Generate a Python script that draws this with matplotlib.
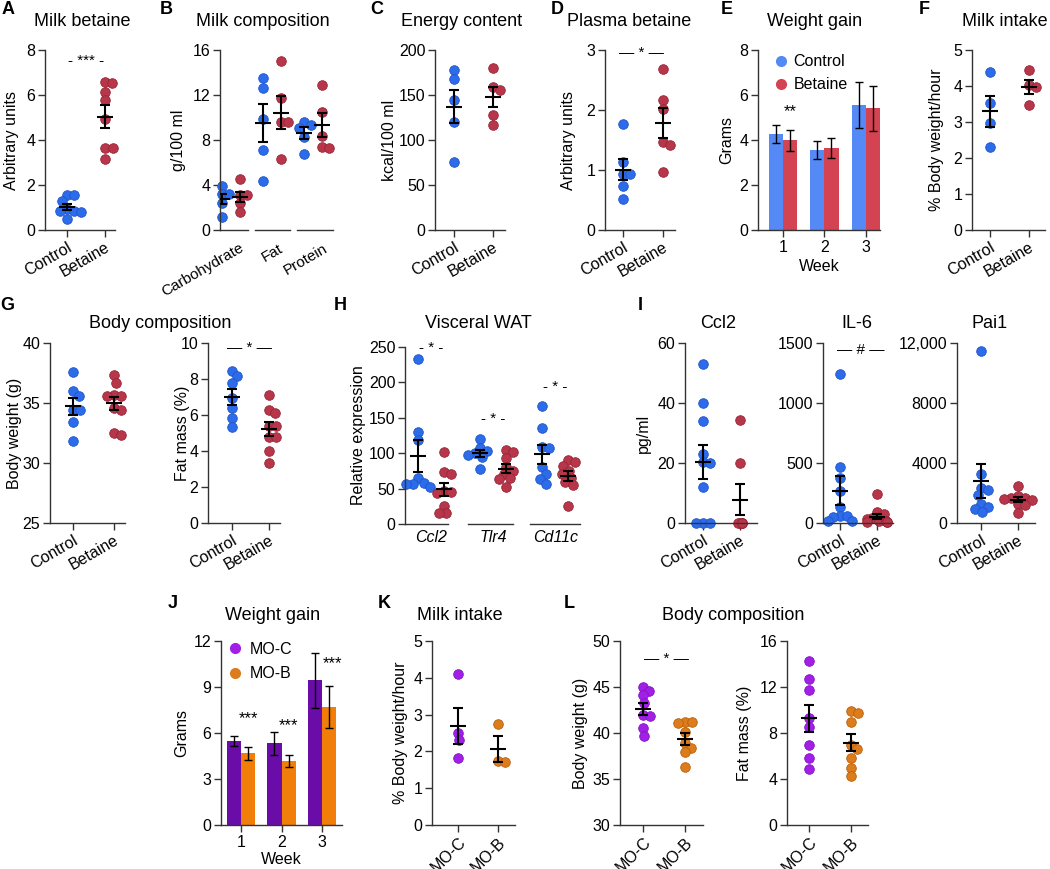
import numpy as np
import matplotlib
matplotlib.use("Agg")
import matplotlib.pyplot as plt
from matplotlib.lines import Line2D

plt.rcParams['font.family'] = ['Liberation Sans', 'DejaVu Sans']
plt.rcParams['font.size'] = 11
plt.rcParams['axes.linewidth'] = 1.0

# ---- data ----
groups = ['Control', 'Betaine']
mo_groups = ['MO-C', 'MO-B']

milk_betaine_ctrl = [1.55, 1.55, 1.3, 0.95, 0.85, 0.85, 0.8, 0.47]
milk_betaine_bet = [6.58, 6.55, 6.13, 5.76, 4.92, 3.63, 3.63, 3.14]

comp_names = ['Carbohydrate', 'Fat', 'Protein']
comp_ctrl = [[3.9, 3.2, 3.2, 2.4, 1.2], [13.5, 12.6, 9.9, 7.1, 4.4], [9.6, 9.3, 9.1, 8.3, 6.8]]
comp_bet = [[4.5, 3.1, 3.1, 2.4, 1.6], [15.0, 11.7, 9.6, 9.6, 6.3], [12.9, 10.5, 8.4, 7.4, 7.3]]

energy_ctrl = [178, 168, 144, 120, 76]
energy_bet = [180, 159, 156, 128, 117]

plasma_ctrl = [1.76, 1.14, 0.94, 0.94, 0.73, 0.52]
plasma_bet = [2.68, 2.17, 2.01, 1.46, 1.41, 0.96]

weeks = [1, 2, 3]
gain_ctrl = [4.28, 3.55, 5.55]
gain_ctrl_err = [0.4, 0.4, 1.02]
gain_bet = [3.98, 3.65, 5.4]
gain_bet_err = [0.45, 0.45, 0.98]

intake_ctrl = [4.38, 3.52, 2.98, 2.31]
intake_bet = [4.44, 4.03, 3.96, 3.47]

bw_ctrl = [37.6, 36.0, 35.6, 34.4, 34.4, 33.4, 31.8]
bw_bet = [37.3, 36.7, 35.7, 35.6, 35.6, 34.6, 34.4, 32.5, 32.3]
fat_ctrl = [8.45, 8.15, 7.8, 6.95, 6.4, 5.85, 5.35]
fat_bet = [7.1, 6.3, 6.1, 5.4, 5.4, 4.8, 4.8, 4.0, 3.33]

genes = ['Ccl2', 'Tlr4', 'Cd11c']
wat_ctrl = [[233, 130, 118, 65, 58, 57, 57, 52], [120, 108, 103, 100, 98, 95, 77],
            [166, 135, 109, 107, 80, 71, 64, 57]]
wat_bet = [[102, 74, 70, 47, 45, 44, 26, 16, 15], [105, 102, 93, 80, 75, 70, 65, 63, 52],
           [90, 87, 82, 75, 70, 65, 60, 55, 25]]

ccl2_ctrl = [53, 40, 34, 23, 20.5, 20, 12, 0, 0, 0]
ccl2_bet = [34.3, 20, 0, 0, 0, 0, 0]
il6_ctrl = [1240, 470, 375, 270, 130, 60, 55, 50, 20, 15]
il6_bet = [240, 90, 75, 45, 35, 20, 15, 10, 5, 5]
pai1_ctrl = [11500, 3250, 2350, 2200, 1900, 1250, 1050, 950, 750]
pai1_bet = [2450, 1800, 1700, 1650, 1600, 1550, 1300, 1200, 700]

mo_gain_c = [5.48, 5.33, 9.43]
mo_gain_c_err = [0.3, 0.75, 1.8]
mo_gain_b = [4.67, 4.17, 7.7]
mo_gain_b_err = [0.43, 0.37, 1.38]

mo_intake_c = [4.1, 2.5, 2.3, 1.83]
mo_intake_b = [2.75, 1.75, 1.7]
mo_bw_c = [45.0, 44.6, 44.1, 43.3, 42.0, 41.8, 40.5, 39.7]
mo_bw_b = [41.2, 41.2, 41.1, 40.1, 38.9, 38.4, 37.9, 36.3]
mo_fat_c = [14.3, 12.7, 11.7, 9.3, 8.5, 7.0, 5.8, 4.9]
mo_fat_b = [9.95, 9.7, 8.95, 7.0, 6.6, 5.8, 5.0, 4.25]

# colours
BLUE, BLUE_E = '#2C6BEA', '#1F55C8'
RED, RED_E = '#B8364A', '#962536'
PURPLE, PURPLE_E = '#A21FE8', '#8312C2'
ORANGE, ORANGE_E = '#DC7C1C', '#B9600C'
BLUE_BAR, RED_BAR = '#5589F5', '#D44352'
PURPLE_BAR, ORANGE_BAR = '#6A0DA8', '#F07E08'
AXC = '#333333'

W, H = 1050, 869
fig = plt.figure(figsize=(W / 100, H / 100), dpi=100)


def px_axes(x0, x1, ytop, ybot, xlim, ylim, yticks, yticklabels=None):
    ax = fig.add_axes([x0 / W, 1 - ybot / H, (x1 - x0) / W, (ybot - ytop) / H])
    ax.set_xlim(xlim)
    ax.set_ylim(ylim)
    ax.set_yticks(yticks)
    if yticklabels is not None:
        ax.set_yticklabels(yticklabels)
    for s in ['top', 'right']:
        ax.spines[s].set_visible(False)
    for s in ['left', 'bottom']:
        ax.spines[s].set_color(AXC)
    ax.tick_params(length=5, width=1, color=AXC, labelsize=11.5, pad=2)
    ax.patch.set_alpha(0)
    return ax


def ftext(x, y, s, **kw):
    fig.text(x / W, 1 - y / H, s, ha='center', va='center', **kw)


def ylab(x, y, s):
    ftext(x, y, s, rotation=90, fontsize=11.5)


def swarm(ax, xc, vals, color, ecolor, d=7.4, maxw=60, size=9.6):
    # simple beeswarm in pixel space, dots may overlap a little
    vals = np.asarray(vals, float)
    pts = ax.transData.transform(np.column_stack([np.full(len(vals), xc), vals]))
    ys = pts[:, 1]
    placed, offs = [], np.zeros(len(vals))
    for i in np.argsort(-ys):
        y = ys[i]
        cands = [0.0]
        for px, py in placed:
            dy = abs(y - py)
            if dy < d:
                dx = np.sqrt(d * d - dy * dy)
                cands += [px + dx, px - dx]
        cands.sort(key=abs)
        c = cands[-1]
        for cand in cands:
            if all((cand - px) ** 2 + (y - py) ** 2 >= d * d - 1e-6 for px, py in placed):
                c = cand
                break
        c = float(np.clip(c, -maxw, maxw))
        placed.append((c, y))
        offs[i] = c
    unit = ax.transData.transform((1, 0))[0] - ax.transData.transform((0, 0))[0]
    ax.scatter(xc + offs / unit, vals, s=(size * 0.72) ** 2, color=color, edgecolor=ecolor,
               linewidth=0.6, zorder=2, clip_on=False)


def mean_sem(ax, xc, vals):
    vals = np.asarray(vals, float)
    m = vals.mean()
    s = vals.std(ddof=1) / np.sqrt(len(vals))
    ax.errorbar(xc, m, yerr=s, fmt='none', ecolor='black', elinewidth=1.5,
                capsize=3.6, capthick=1.5, zorder=3)
    ax.plot([xc], [m], marker='_', ms=12, mew=1.5, color='black', zorder=3)


def two_groups(ax, a, b, ca, cb, maxw=(60, 60)):
    swarm(ax, 0, a, *ca, maxw=maxw[0])
    swarm(ax, 1, b, *cb, maxw=maxw[1])
    mean_sem(ax, 0, a)
    mean_sem(ax, 1, b)


def cat_labels(ax, labels, rot=30):
    ax.set_xticks([0, 1])
    ax.set_xticklabels(labels, rotation=rot, ha='right', va='top', rotation_mode='anchor',
                       fontsize=11.5)


CB = (BLUE, BLUE_E)
CR = (RED, RED_E)
CP = (PURPLE, PURPLE_E)
CO = (ORANGE, ORANGE_E)

# ---- A ----
ax = px_axes(45, 115, 50, 230, (-0.58, 1.26), (0, 8), [0, 2, 4, 6, 8])
two_groups(ax, milk_betaine_ctrl, milk_betaine_bet, CB, CR)
cat_labels(ax, groups)
ax.text(0.5, 7.5, '- *** -', ha='center', va='center', fontsize=11)

# ---- B ----
ax = px_axes(220, 333, 50, 230, (-0.27, 2.49), (0, 16), [0, 4, 8, 12, 16])
for i in range(3):
    swarm(ax, i - 0.22, comp_ctrl[i], *CB)
    swarm(ax, i + 0.22, comp_bet[i], *CR)
    mean_sem(ax, i - 0.22, comp_ctrl[i])
    mean_sem(ax, i + 0.22, comp_bet[i])
ax.spines['bottom'].set_visible(False)
for a0, a1 in [(-0.27, 0.42), (0.58, 1.44), (1.6, 2.49)]:
    ax.plot([a0, a1], [0, 0], color=AXC, lw=1, clip_on=False, zorder=1,
            transform=ax.get_xaxis_transform())
ax.set_xticks([0.2, 1.15, 2.25])
ax.set_xticklabels(comp_names, rotation=30, ha='right', va='top', rotation_mode='anchor',
                   fontsize=11)
ax.tick_params(axis='x', length=0, pad=8)

# ---- C ----
ax = px_axes(435, 505, 50, 230, (-0.49, 1.31), (0, 200), [0, 50, 100, 150, 200])
two_groups(ax, energy_ctrl, energy_bet, CB, CR)
cat_labels(ax, groups)

# ---- D ----
ax = px_axes(605, 675, 50, 230, (-0.45, 1.3), (0, 3), [0, 1, 2, 3])
two_groups(ax, plasma_ctrl, plasma_bet, CB, CR)
cat_labels(ax, groups)
ax.text(0.45, 2.95, '— * —', ha='center', va='center', fontsize=11)

# ---- E ----
ax = px_axes(758, 880, 50, 230, (0.4, 3.34), (0, 8), [0, 2, 4, 6, 8])
wk = np.array(weeks, float)
bw = 0.34
ax.bar(wk - bw / 2, gain_ctrl, width=bw, color=BLUE_BAR, yerr=gain_ctrl_err,
       error_kw=dict(elinewidth=1, capsize=3, capthick=1, ecolor='black'))
ax.bar(wk + bw / 2, gain_bet, width=bw, color=RED_BAR, yerr=gain_bet_err,
       error_kw=dict(elinewidth=1, capsize=3, capthick=1, ecolor='black'))
ax.set_xticks(weeks)
ax.set_xticklabels([str(w) for w in weeks], fontsize=11.5)
ax.text(1 + bw / 2, 5.25, '**', ha='center', va='center', fontsize=12)
ax.set_xlabel('Week', fontsize=11.5, labelpad=3)
ax.legend(handles=[Line2D([], [], marker='o', ls='', color=BLUE_BAR, ms=7, label='Control'),
                   Line2D([], [], marker='o', ls='', color=RED_BAR, ms=7, label='Betaine')],
          loc='upper left', bbox_to_anchor=(0.08, 1.012), frameon=False, fontsize=11.5,
          handlelength=0.8, handletextpad=0.4, labelspacing=0.5, borderaxespad=0)

# ---- F ----
ax = px_axes(972, 1045, 50, 230, (-0.46, 1.41), (0, 5), [0, 1, 2, 3, 4, 5])
two_groups(ax, intake_ctrl, intake_bet, CB, CR)
cat_labels(ax, groups)

# ---- G ----
ax = px_axes(50, 125, 343, 523, (-0.56, 1.27), (25, 40), [25, 30, 35, 40])
two_groups(ax, bw_ctrl, bw_bet, CB, CR)
cat_labels(ax, groups)

ax = px_axes(208, 280, 343, 523, (-0.65, 1.3), (0, 10), [0, 2, 4, 6, 8, 10])
two_groups(ax, fat_ctrl, fat_bet, CB, CR)
cat_labels(ax, groups)
ax.text(0.46, 9.72, '— * —', ha='center', va='center', fontsize=11)

# ---- H ----
ax = px_axes(405, 580, 347, 524, (-0.42, 2.4), (0, 250), [0, 50, 100, 150, 200, 250])
for i in range(3):
    swarm(ax, i - 0.21, wat_ctrl[i], *CB)
    swarm(ax, i + 0.21, wat_bet[i], *CR)
    mean_sem(ax, i - 0.21, wat_ctrl[i])
    mean_sem(ax, i + 0.21, wat_bet[i])
ax.spines['bottom'].set_visible(False)
for a0, a1 in [(-0.42, 0.27), (0.6, 1.32), (1.6, 2.4)]:
    ax.plot([a0, a1], [0, 0], color=AXC, lw=1, clip_on=False, zorder=1,
            transform=ax.get_xaxis_transform())
ax.set_xticks([0, 1, 2])
ax.set_xticklabels(genes, fontstyle='italic', fontsize=11.5)
ax.tick_params(axis='x', length=0, pad=4)
for xs, ys in [(0, 248), (1, 148), (2, 194)]:
    ax.text(xs, ys, '- * -', ha='center', va='center', fontsize=11)

# ---- I ----
ax = px_axes(685, 757, 343, 523, (-0.49, 1.46), (0, 60), [0, 20, 40, 60])
two_groups(ax, ccl2_ctrl, ccl2_bet, CB, CR, maxw=(9, 2))
cat_labels(ax, groups)

ax = px_axes(823, 893, 343, 523, (-0.46, 1.43), (0, 1500), [0, 500, 1000, 1500])
two_groups(ax, il6_ctrl, il6_bet, CB, CR, maxw=(12, 10))
cat_labels(ax, groups)
ax.text(0.55, 1444, '— # —', ha='center', va='center', fontsize=11)

ax = px_axes(957, 1035, 343, 523, (-0.65, 1.46), (0, 12000), [0, 4000, 8000, 12000],
             ['0', '4000', '8000', '12,000'])
two_groups(ax, pai1_ctrl, pai1_bet, CB, CR, maxw=(14, 16))
cat_labels(ax, groups)

# ---- J ----
ax = px_axes(221, 342, 641, 825, (0.51, 3.49), (0, 12), [0, 3, 6, 9, 12])
bw = 0.35
ax.bar(wk - bw / 2, mo_gain_c, width=bw, color=PURPLE_BAR, yerr=mo_gain_c_err,
       error_kw=dict(elinewidth=1, capsize=3, capthick=1, ecolor='black'))
ax.bar(wk + bw / 2, mo_gain_b, width=bw, color=ORANGE_BAR, yerr=mo_gain_b_err,
       error_kw=dict(elinewidth=1, capsize=3, capthick=1, ecolor='black'))
ax.set_xticks(weeks)
ax.set_xticklabels([str(w) for w in weeks], fontsize=11.5)
for xs, ys in [(1 + bw / 2, 6.96), (2 + bw / 2, 6.5), (3 + 0.25, 10.5)]:
    ax.text(xs, ys, '***', ha='center', va='center', fontsize=12)
ax.set_xlabel('Week', fontsize=11.5, labelpad=2)
ax.legend(handles=[Line2D([], [], marker='o', ls='', color=PURPLE, ms=7, label='MO-C'),
                   Line2D([], [], marker='o', ls='', color=ORANGE, ms=7, label='MO-B')],
          loc='upper left', bbox_to_anchor=(0.01, 1.03), frameon=False, fontsize=11.5,
          handlelength=0.8, handletextpad=0.5, labelspacing=0.6, borderaxespad=0)

# ---- K ----
ax = px_axes(432, 515, 641, 825, (-0.65, 1.43), (0, 5), [0, 1, 2, 3, 4, 5])
two_groups(ax, mo_intake_c, mo_intake_b, CP, CO)
cat_labels(ax, mo_groups, rot=45)

# ---- L ----
ax = px_axes(620, 703, 641, 825, (-0.55, 1.43), (30, 50), [30, 35, 40, 45, 50])
two_groups(ax, mo_bw_c, mo_bw_b, CP, CO)
cat_labels(ax, mo_groups, rot=45)
ax.text(0.55, 48.0, '— * —', ha='center', va='center', fontsize=11)

ax = px_axes(787, 868, 641, 825, (-0.52, 1.4), (0, 16), [0, 4, 8, 12, 16])
two_groups(ax, mo_fat_c, mo_fat_b, CP, CO)
cat_labels(ax, mo_groups, rot=45)

# ---- titles, y labels, panel letters ----
titles = [(82, 22, 'Milk betaine'), (263, 22, 'Milk composition'), (462, 22, 'Energy content'),
          (629, 22, 'Plasma betaine'), (815, 22, 'Weight gain'), (1005, 22, 'Milk intake'),
          (160, 323, 'Body composition'), (478, 323, 'Visceral WAT'), (718, 323, 'Ccl2'),
          (857, 323, 'IL-6'), (990, 323, 'Pai1'),
          (273, 615, 'Weight gain'), (460, 615, 'Milk intake'), (733, 615, 'Body composition')]
for x, y, s in titles:
    ftext(x, y, s, fontsize=13)

ylabels = [(12, 140, 'Arbitrary units'), (178, 140, 'g/100 ml'), (390, 140, 'kcal/100 ml'),
           (568, 140, 'Arbitrary units'), (727, 140, 'Grams'), (937, 140, '% Body weight/hour'),
           (15, 433, 'Body weight (g)'), (183, 433, 'Fat mass (%)'), (358, 435, 'Relative expression'),
           (643, 433, 'pg/ml'), (182, 733, 'Grams'), (400, 733, '% Body weight/hour'),
           (581, 733, 'Body weight (g)'), (745, 733, 'Fat mass (%)')]
for x, y, s in ylabels:
    ylab(x, y, s)

letters = [(8, 10, 'A'), (166, 10, 'B'), (377, 10, 'C'), (557, 10, 'D'), (727, 10, 'E'),
           (924, 10, 'F'), (7, 306, 'G'), (340, 306, 'H'), (640, 306, 'I'), (173, 603, 'J'),
           (384, 603, 'K'), (569, 603, 'L')]
for x, y, s in letters:
    ftext(x, y, s, fontsize=13, fontweight='bold')

fig.savefig('out.png', dpi=100)
